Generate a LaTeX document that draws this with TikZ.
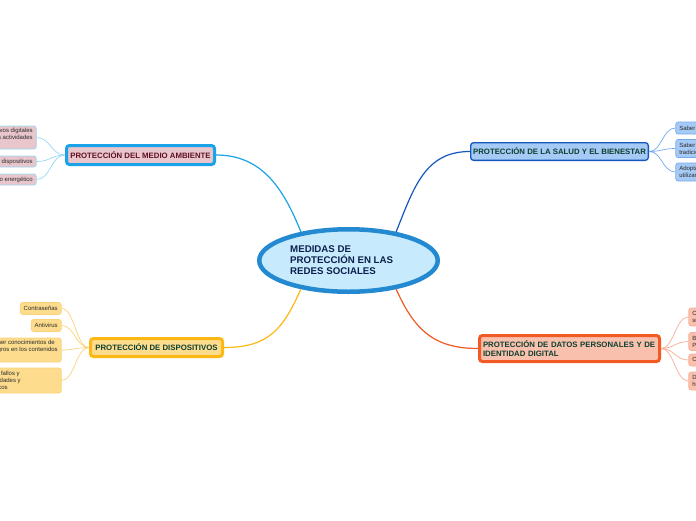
\documentclass[tikz,border=0pt]{standalone}
\usepackage{fontspec}
\setmainfont{Liberation Sans}
\usetikzlibrary{shapes.geometric}
\definecolor{cenF}{HTML}{C7EBFC}
\definecolor{cenB}{HTML}{2389D1}
\definecolor{cenT}{HTML}{0B1F4D}
\definecolor{maF}{HTML}{E8C6CC}
\definecolor{maB}{HTML}{1AA3E8}
\definecolor{maL}{HTML}{99D8F5}
\definecolor{maT}{HTML}{5E1224}
\definecolor{saF}{HTML}{A6CAF6}
\definecolor{saB}{HTML}{1557BF}
\definecolor{saL}{HTML}{75ABEE}
\definecolor{daF}{HTML}{F9C0AE}
\definecolor{daB}{HTML}{F15A24}
\definecolor{daL}{HTML}{FAAE96}
\definecolor{diF}{HTML}{FDDD8D}
\definecolor{diB}{HTML}{FDB813}
\definecolor{diL}{HTML}{FBD27A}
\definecolor{grT}{HTML}{0D3F2F}
\definecolor{lfT}{HTML}{2A2A2A}
\newcommand{\padR}[1]{\rule{#1}{0pt}}
\tikzset{
  mainbox/.style={draw, rounded corners=3pt, inner sep=0pt, align=center,
    font=\fontsize{7.8}{9.4}\selectfont\bfseries},
  leafbox/.style={draw, rounded corners=2.5pt, line width=0.7pt, inner xsep=3.5pt,
    inner ysep=0pt, text=lfT, font=\fontsize{6}{7}\selectfont},
  link/.style={line width=1.2pt},
  twig/.style={line width=0.7pt}
}
\begin{document}
\begin{tikzpicture}[x=1pt,y=-1pt]
\useasboundingbox (0,0) rectangle (696,520);
\fill[white] (0,0) rectangle (696,520);
\clip (0,0) rectangle (696,520);

% central
\node[ellipse, draw=cenB, line width=4.5pt, fill=cenF, minimum width=178.5pt,
  minimum height=62.5pt, inner sep=0pt] (c) at (348.5,260.5) {};
\node[anchor=west, inner sep=0pt, align=left, text=cenT,
  font=\fontsize{9.7}{11}\selectfont\bfseries] (ct) at (290,260)
  {MEDIDAS DE\\PROTECCIÓN EN LAS\\REDES SOCIALES};

% main branches
\node[mainbox, draw=maB, line width=3pt, fill=maF, text=maT,
  minimum width=148pt, minimum height=19pt] (ma) at (140.5,155) {PROTECCIÓN DEL MEDIO AMBIENTE};
\node[mainbox, draw=saB, line width=1.3pt, fill=saF, text=grT,
  minimum width=177.7pt, minimum height=17.7pt] (sa) at (559.5,151.5) {PROTECCIÓN DE LA SALUD Y EL BIENESTAR};
\node[mainbox, draw=daB, line width=3pt, fill=daF, text=grT, align=left,
  inner xsep=3.5pt, text width=173pt, minimum height=26pt] (da) at (569.5,348.5)
  {PROTECCIÓN DE DATOS PERSONALES Y DE\\IDENTIDAD DIGITAL};
\node[mainbox, draw=diB, line width=3pt, fill=diF, text=grT,
  minimum width=132pt, minimum height=18pt] (di) at (156.5,347.5) {PROTECCIÓN DE DISPOSITIVOS};

% central links
\draw[link, maB] (c.149) .. controls +(-18,-45) and +(45,0) .. (ma.east);
\draw[link, saB] (c.31) .. controls +(18,-45) and +(-45,0) .. (sa.west);
\draw[link, daB] (c.-31) .. controls +(18,40) and +(-45,0) .. (da.west);
\draw[link, diB] (c.211) .. controls +(-18,40) and +(45,0) .. (di.east);

% medio ambiente leaves
\node[leafbox, draw=maL, fill=maF, anchor=east, align=right, minimum height=23pt] (ma1) at (36.6,137.5)
  {Reducir el uso de dispositivos digitales\\en nuestras actividades\\diarias\padR{60pt}};
\node[leafbox, draw=maL, fill=maF, anchor=east, minimum height=11pt] (ma2) at (36.6,161.5)
  {Reciclar los dispositivos};
\node[leafbox, draw=maL, fill=maF, anchor=east, minimum height=11pt] (ma3) at (36.6,179.5)
  {Reducir el consumo energético};
\foreach \n in {ma1,ma2,ma3}
  \draw[twig, maL] (ma.west) .. controls +(-14,0) and +(14,0) .. (\n.east);

% salud leaves
\node[leafbox, draw=saL, fill=saF, anchor=west, minimum height=12pt] (sa1) at (675.4,128)
  {Saber desconectar};
\node[leafbox, draw=saL, fill=saF, anchor=west, align=left, minimum height=18pt] (sa2) at (675.4,148.5)
  {Saber combinar su uso con actividades\\tradicionales};
\node[leafbox, draw=saL, fill=saF, anchor=west, align=left, minimum height=18pt] (sa3) at (675.4,172)
  {Adoptar posturas correctas al\\utilizar los dispositivos};
\foreach \n in {sa1,sa2,sa3}
  \draw[twig, saL] (sa.east) .. controls +(13,0) and +(-13,0) .. (\n.west);

% datos leaves
\node[leafbox, draw=daL, fill=daF, anchor=west, align=left, minimum height=18pt] (da1) at (688.4,317)
  {Configurar la privacidad de\\sus perfiles};
\node[leafbox, draw=daL, fill=daF, anchor=west, align=left, minimum height=18pt] (da2) at (688.4,341.5)
  {Borrar la huella digital\\Periódicamente};
\node[leafbox, draw=daL, fill=daF, anchor=west, minimum height=12pt] (da3) at (688.4,360)
  {Cuidar lo que publicamos};
\node[leafbox, draw=daL, fill=daF, anchor=west, align=left, minimum height=18pt] (da4) at (688.4,381)
  {Desconfiar de los enlaces\\hipervínculos sospechosos};
\foreach \n in {da1,da2,da3,da4}
  \draw[twig, daL] (da.east) .. controls +(13,0) and +(-13,0) .. (\n.west);

% dispositivos leaves
\node[leafbox, draw=diL, fill=diF, anchor=east, minimum height=12pt] (di1) at (61.6,308.5)
  {Contraseñas};
\node[leafbox, draw=diL, fill=diF, anchor=east, minimum height=12pt] (di2) at (61.6,325.5)
  {Antivirus};
\node[leafbox, draw=diL, fill=diF, anchor=east, align=right, minimum height=24pt] (di3) at (61.6,350)
  {Tener conocimientos de\padR{3pt}\\los peligros en los contenidos\\digitales\padR{80pt}};
\node[leafbox, draw=diL, fill=diF, anchor=east, align=right, minimum height=25pt] (di4) at (61.6,380.5)
  {Actualizar para corregir fallos y\padR{38pt}\\vulnerabilidades y\padR{37pt}\\errores técnicos\padR{50pt}};
\foreach \n in {di1,di2,di3,di4}
  \draw[twig, diL] (di.west) .. controls +(-13,0) and +(13,0) .. (\n.east);
\end{tikzpicture}
\end{document}
